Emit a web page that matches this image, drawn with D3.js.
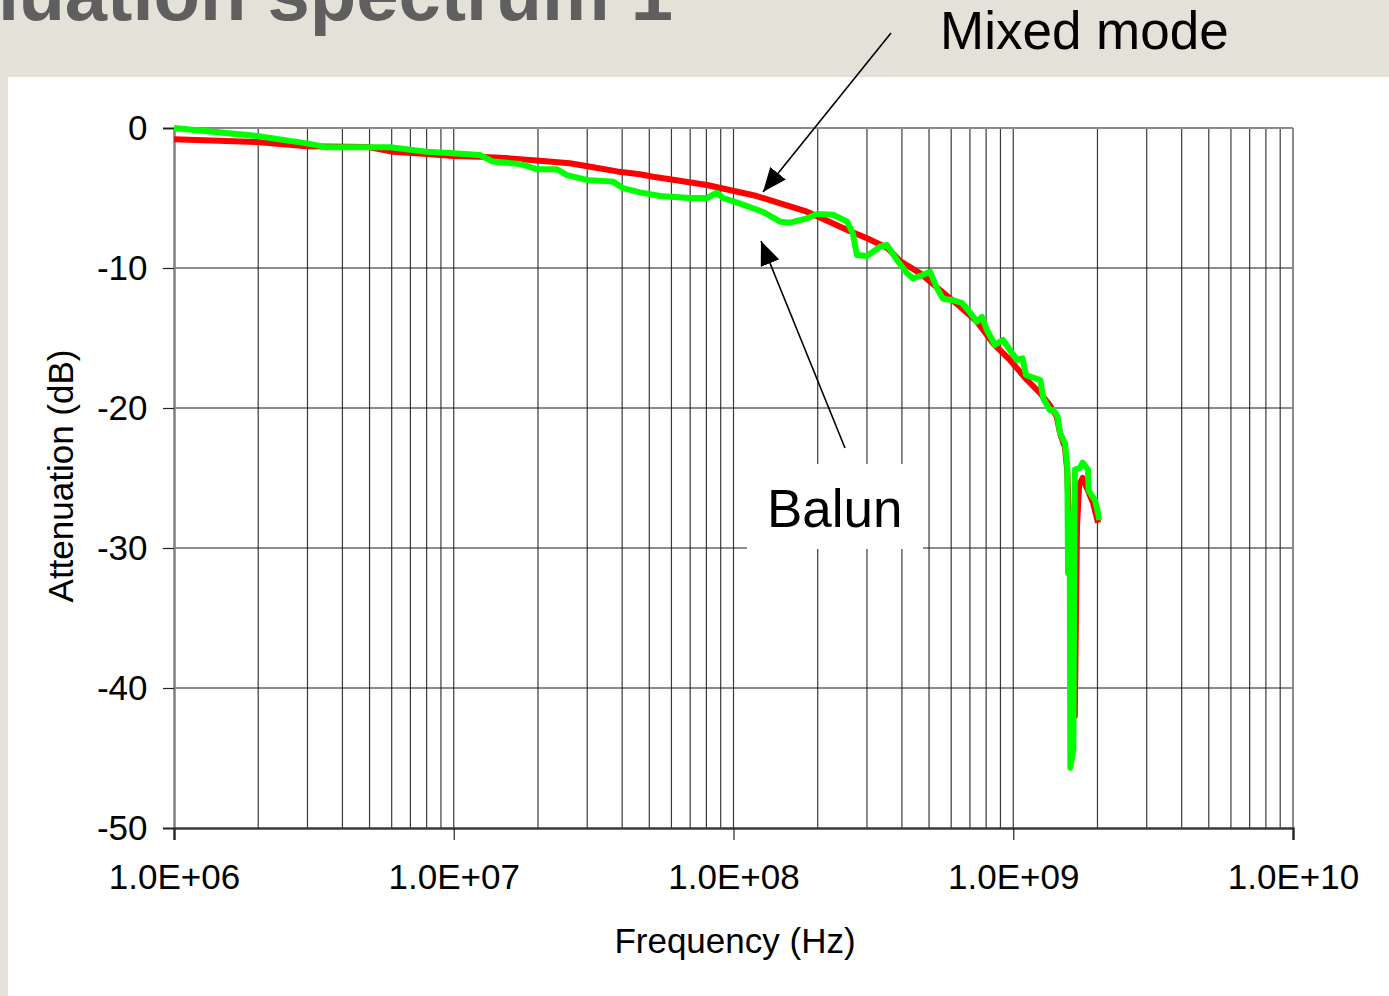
<!DOCTYPE html>
<html>
<head>
<meta charset="utf-8">
<script src="https://cdn.jsdelivr.net/npm/d3@7/dist/d3.min.js"></script>
<style>
  html, body { margin: 0; padding: 0; background: #e4e1d9; }
  svg { display: block; }
  text { font-family: "Liberation Sans", Arial, sans-serif; }
</style>
</head>
<body>
<svg id="chart" width="1389" height="996"></svg>
<script>
// ---------- data ----------
const titleText = "Attenuation spectrum 1";
const xTickValues = [1e6, 1e7, 1e8, 1e9, 1e10];
const yTickValues = [0, -10, -20, -30, -40, -50];
const xAxisTitle = "Frequency (Hz)";
const yAxisTitle = "Attenuation (dB)";
const labelMixed = "Mixed mode";
const labelBalun = "Balun";

// Mixed mode (red)
const freqMixed = [1.0e6, 1.98e6, 2.99e6, 4.9e6, 6.07e6, 8.02e6, 9.94e6, 1.24e7, 1.59e7, 2.08e7,
  2.6e7, 3.15e7, 3.84e7, 4.63e7, 5.16e7, 6.08e7, 8.04e7, 9.96e7, 1.21e8, 1.47e8,
  1.83e8, 2.16e8, 2.55e8, 3.0e8, 3.54e8, 3.94e8, 4.65e8, 5.47e8, 6.46e8, 7.42e8,
  8.47e8, 9.73e8, 1.12e9, 1.25e9, 1.35e9, 1.43e9, 1.47e9, 1.53e9, 1.56e9, 1.58e9,
  1.62e9, 1.66e9, 1.69e9, 1.72e9, 1.77e9, 1.85e9, 1.93e9, 2.01e9];
const attMixed = [-0.8, -1.0, -1.3, -1.35, -1.7, -1.85, -2.0, -2.05, -2.17, -2.36,
  -2.52, -2.8, -3.1, -3.3, -3.48, -3.7, -4.07, -4.48, -4.86, -5.38,
  -5.98, -6.62, -7.29, -7.88, -8.55, -9.5, -10.38, -11.57, -12.76, -13.83,
  -15.38, -16.57, -18.0, -18.95, -19.8, -20.6, -21.8, -22.8, -24.5, -28.0,
  -35.0, -42.0, -28.5, -25.5, -25.0, -25.9, -26.8, -28.2];

// Balun (green)
const freqBalun = [1.0e6, 1.98e6, 2.99e6, 3.52e6, 5.92e6, 8.02e6, 9.94e6, 1.24e7, 1.38e7, 1.73e7,
  1.99e7, 2.34e7, 2.54e7, 2.99e7, 3.71e7, 4.03e7, 4.63e7, 5.46e7, 5.78e7, 7.0e7,
  8.04e7, 8.73e7, 9.17e7, 1.05e8, 1.27e8, 1.47e8, 1.59e8, 1.83e8, 1.99e8, 2.27e8,
  2.55e8, 2.67e8, 2.76e8, 3.0e8, 3.34e8, 3.54e8, 3.84e8, 4.17e8, 4.38e8, 4.76e8,
  5.04e8, 5.34e8, 5.61e8, 6.09e8, 6.56e8, 6.89e8, 7.42e8, 7.73e8, 8.05e8, 8.6e8,
  9.19e8, 9.73e8, 1.03e9, 1.08e9, 1.11e9, 1.15e9, 1.25e9, 1.28e9, 1.35e9, 1.39e9,
  1.44e9, 1.47e9, 1.53e9, 1.56e9, 1.57e9, 1.59e9, 1.60e9, 1.64e9, 1.66e9, 1.73e9,
  1.77e9, 1.85e9, 1.86e9, 1.96e9, 2.01e9, 2.03e9];
const attBalun = [0.0, -0.57, -1.1, -1.38, -1.38, -1.7, -1.8, -1.93, -2.4, -2.57,
  -2.95, -2.95, -3.36, -3.71, -3.83, -4.3, -4.6, -4.86, -4.9, -5.0,
  -5.0, -4.62, -5.0, -5.38, -5.98, -6.69, -6.76, -6.45, -6.14, -6.2,
  -6.69, -7.52, -9.07, -9.14, -8.48, -8.36, -9.43, -10.38, -10.74, -10.5,
  -10.26, -11.45, -12.2, -12.3, -12.5, -13.0, -13.83, -13.5, -14.43, -15.5,
  -15.14, -15.86, -16.57, -16.45, -17.64, -17.76, -18.0, -19.3, -20.14, -20.14,
  -20.6, -21.8, -22.5, -24.2, -31.8, -27.5, -45.7, -44.4, -24.4, -24.3,
  -23.9, -24.4, -25.9, -26.6, -27.5, -28.0];

// ---------- layout ----------
const svg = d3.select("#chart");
const W = 1389, H = 996;
const plot = { left: 174, right: 1293, top: 128, bottom: 828 };

const x = d3.scaleLog().domain([1e6, 1e10]).range([plot.left, plot.right]);
const y = d3.scaleLinear().domain([-50, 0]).range([plot.bottom, plot.top]);

// background + white panel
svg.append("rect").attr("width", W).attr("height", H).attr("fill", "#e4e1d9");
svg.append("rect").attr("x", 8).attr("y", 77).attr("width", W - 8).attr("height", H - 77).attr("fill", "#ffffff");

// slide title (cut off at the top / left edge as in the reference)
svg.append("text")
  .attr("x", 673).attr("y", 20)
  .attr("text-anchor", "end")
  .attr("font-size", 76).attr("font-weight", "bold")
  .attr("fill", "#5f5f5f")
  .text(titleText);

// vertical gridlines (all 1..9 multiples)
const gridX = x.ticks().filter(v => v > 1e6 && v < 1e10);
svg.append("g").selectAll("line").data(gridX).join("line")
  .attr("x1", d => x(d)).attr("x2", d => x(d))
  .attr("y1", plot.top).attr("y2", plot.bottom)
  .attr("stroke", "#3a3a3a").attr("stroke-width", 1.2);

// horizontal gridlines
svg.append("g").selectAll("line").data(yTickValues.filter(v => v > -50 && v < 0)).join("line")
  .attr("x1", plot.left).attr("x2", plot.right)
  .attr("y1", d => y(d)).attr("y2", d => y(d))
  .attr("stroke", "#1a1a1a").attr("stroke-width", 1.2);

// plot frame top/right
svg.append("line").attr("x1", plot.left).attr("x2", plot.right).attr("y1", plot.top).attr("y2", plot.top)
  .attr("stroke", "#8a8a8a").attr("stroke-width", 2);
svg.append("line").attr("x1", plot.right).attr("x2", plot.right).attr("y1", plot.top).attr("y2", plot.bottom)
  .attr("stroke", "#8a8a8a").attr("stroke-width", 2);

// y axis
const yAxis = d3.axisLeft(y).tickValues(yTickValues).tickSize(11).tickPadding(19)
  .tickFormat(d => String(d));
const gy = svg.append("g").attr("transform", `translate(${plot.left},0)`).call(yAxis);
gy.select(".domain").attr("stroke", "#808080").attr("stroke-width", 2.5);
gy.selectAll(".tick line").attr("stroke", "#222").attr("stroke-width", 1.2);
gy.selectAll(".tick text").attr("font-size", 35).attr("fill", "#000")
  .attr("font-family", "Liberation Sans, Arial, sans-serif").attr("dx", "0.1em");

// x axis
const xAxis = d3.axisBottom(x).tickValues(xTickValues).tickSize(12).tickPadding(24)
  .tickFormat(d => "1.0E+" + String(Math.round(Math.log10(d))).padStart(2, "0"));
const gx = svg.append("g").attr("transform", `translate(0,${plot.bottom})`).call(xAxis);
gx.select(".domain").attr("stroke", "#3a3a3a").attr("stroke-width", 2.5);
gx.selectAll(".tick line").attr("stroke", "#222").attr("stroke-width", 1.2);
gx.selectAll(".tick text").attr("font-size", 35).attr("fill", "#000")
  .attr("font-family", "Liberation Sans, Arial, sans-serif");

// axis titles
svg.append("text").attr("x", 735).attr("y", 953).attr("text-anchor", "middle")
  .attr("font-size", 35).attr("fill", "#000").text(xAxisTitle);
svg.append("text").attr("transform", "translate(73,476) rotate(-90)").attr("text-anchor", "middle")
  .attr("font-size", 35).attr("fill", "#000").text(yAxisTitle);

// series
const line = d3.line().x(d => x(d[0])).y(d => y(d[1]));
const mixed = freqMixed.map((f, i) => [f, attMixed[i]]);
const balun = freqBalun.map((f, i) => [f, attBalun[i]]);
svg.append("path").datum(mixed).attr("d", line)
  .attr("fill", "none").attr("stroke", "#ff0000").attr("stroke-width", 6)
  .attr("stroke-linejoin", "round");
svg.append("path").datum(balun).attr("d", line)
  .attr("fill", "none").attr("stroke", "#00ff00").attr("stroke-width", 6)
  .attr("stroke-linejoin", "round");

// Balun label with white box
svg.append("rect").attr("x", 747).attr("y", 464).attr("width", 176).attr("height", 85).attr("fill", "#fff");
svg.append("text").attr("x", 767).attr("y", 527).attr("font-size", 53).attr("fill", "#000").text(labelBalun);

// Mixed mode label
svg.append("text").attr("x", 940).attr("y", 49).attr("font-size", 53).attr("fill", "#000").text(labelMixed);

// arrows
const defs = svg.append("defs");
defs.append("marker").attr("id", "arrow")
  .attr("viewBox", "0 0 24 20").attr("refX", 24).attr("refY", 10)
  .attr("markerWidth", 24).attr("markerHeight", 20)
  .attr("markerUnits", "userSpaceOnUse").attr("orient", "auto")
  .append("path").attr("d", "M0,0 L24,10 L0,20 Z").attr("fill", "#000");

svg.append("line").attr("x1", 891).attr("y1", 33).attr("x2", 763).attr("y2", 192)
  .attr("stroke", "#000").attr("stroke-width", 1.6).attr("marker-end", "url(#arrow)");
svg.append("line").attr("x1", 845).attr("y1", 448).attr("x2", 761).attr("y2", 241)
  .attr("stroke", "#000").attr("stroke-width", 1.6).attr("marker-end", "url(#arrow)");
</script>
</body>
</html>
